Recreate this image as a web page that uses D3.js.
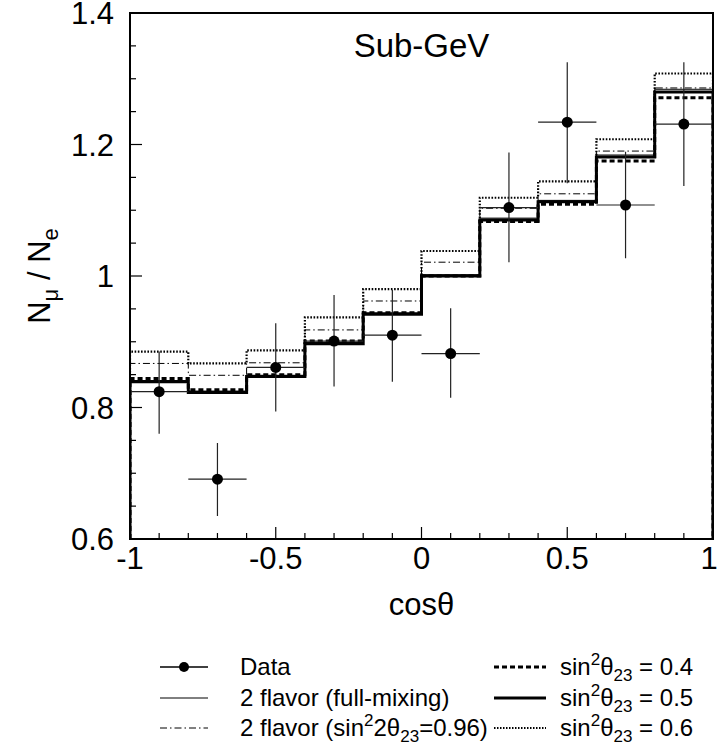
<!DOCTYPE html>
<html>
<head>
<meta charset="utf-8">
<script src="https://cdn.jsdelivr.net/npm/d3@7"></script>
<style>
  body { margin: 0; background: #fff; }
  svg text { font-family: "Liberation Sans", Arial, sans-serif; fill: #000; }
</style>
</head>
<body>
<div id="chart"></div>
<script>
// bins in cos(theta)
var binEdges = [-1, -0.8, -0.6, -0.4, -0.2, 0, 0.2, 0.4, 0.6, 0.8, 1];
var binCenters = [-0.9, -0.7, -0.5, -0.3, -0.1, 0.1, 0.3, 0.5, 0.7, 0.9];

// data points with error bars
var dataVal = [0.824, 0.691, 0.861, 0.901, 0.910, 0.882, 1.104, 1.234, 1.108, 1.231];
var dataHi  = [0.885, 0.746, 0.928, 0.971, 0.979, 0.951, 1.188, 1.325, 1.189, 1.325];
var dataLo  = [0.760, 0.635, 0.794, 0.832, 0.839, 0.815, 1.021, 1.141, 1.027, 1.137];

// predictions
var fullMix = [0.841, 0.825, 0.849, 0.899, 0.944, 1.002, 1.088, 1.115, 1.184, 1.284];
var mix096  = [0.867, 0.849, 0.868, 0.918, 0.962, 1.021, 1.103, 1.125, 1.190, 1.286];
var sin04   = [0.844, 0.827, 0.850, 0.901, 0.944, 1.000, 1.083, 1.109, 1.175, 1.271];
var sin05   = [0.839, 0.823, 0.847, 0.897, 0.942, 1.000, 1.085, 1.113, 1.181, 1.280];
var sin06   = [0.885, 0.867, 0.887, 0.937, 0.980, 1.038, 1.119, 1.144, 1.208, 1.308];

var xTicks = [-1, -0.5, 0, 0.5, 1];
var yTicks = [0.6, 0.8, 1, 1.2, 1.4];

var width = 717, height = 750;
var margin = { left: 130, right: 713, top: 13, bottom: 539 };

var svg = d3.select("#chart").append("svg")
    .attr("width", width)
    .attr("height", height);

var x = d3.scaleLinear().domain([-1, 1]).range([margin.left, margin.right]);
var y = d3.scaleLinear().domain([0.6, 1.4]).range([margin.bottom, margin.top]);

svg.append("defs").append("clipPath").attr("id", "clip")
    .append("rect")
    .attr("x", margin.left).attr("y", margin.top)
    .attr("width", margin.right - margin.left).attr("height", margin.bottom - margin.top);

// histogram line builder
function histPoints(vals) {
    var pts = [[-1, 0.6]];
    vals.forEach(function (v, i) { pts.push([binEdges[i], v]); });
    pts.push([1, vals[vals.length - 1]]);
    pts.push([1, 0.6]);
    return pts;
}
var line = d3.line()
    .x(function (d) { return x(d[0]); })
    .y(function (d) { return y(d[1]); })
    .curve(d3.curveStepAfter);

var styles = [
    { vals: sin06, w: 2.2, dash: "1.6,1.6" },
    { vals: mix096, w: 1, dash: "7,3,1.5,3" },
    { vals: fullMix, w: 1, dash: null },
    { vals: sin04, w: 3, dash: "5,3" },
    { vals: sin05, w: 3, dash: null }
];

var hg = svg.append("g").attr("clip-path", "url(#clip)");
styles.forEach(function (s) {
    hg.append("path")
        .attr("d", line(histPoints(s.vals)))
        .attr("fill", "none")
        .attr("stroke", "#000")
        .attr("stroke-width", s.w)
        .attr("stroke-dasharray", s.dash);
});

// data points
var pg = svg.append("g");
binCenters.forEach(function (c, i) {
    pg.append("line")
        .attr("x1", x(c - 0.1)).attr("x2", x(c + 0.1))
        .attr("y1", y(dataVal[i])).attr("y2", y(dataVal[i]))
        .attr("stroke", "#222").attr("stroke-width", 1.2);
    pg.append("line")
        .attr("x1", x(c)).attr("x2", x(c))
        .attr("y1", y(dataLo[i])).attr("y2", y(dataHi[i]))
        .attr("stroke", "#222").attr("stroke-width", 1.2);
    pg.append("circle")
        .attr("cx", x(c)).attr("cy", y(dataVal[i]))
        .attr("r", 5.5).attr("fill", "#000");
});

// frame
svg.append("rect")
    .attr("x", margin.left).attr("y", margin.top)
    .attr("width", margin.right - margin.left).attr("height", margin.bottom - margin.top)
    .attr("fill", "none").attr("stroke", "#000").attr("stroke-width", 2);

// ticks
var xMinor = d3.range(-1, 1.0001, 0.1);
xMinor.forEach(function (t) {
    var major = xTicks.some(function (m) { return Math.abs(m - t) < 1e-6; });
    svg.append("line")
        .attr("x1", x(t)).attr("x2", x(t))
        .attr("y1", margin.bottom).attr("y2", margin.bottom - (major ? 12 : 6))
        .attr("stroke", "#000").attr("stroke-width", 1.2);
});
var yMinor = d3.range(0.6, 1.4001, 0.05);
yMinor.forEach(function (t) {
    var major = yTicks.some(function (m) { return Math.abs(m - t) < 1e-6; });
    svg.append("line")
        .attr("x1", margin.left).attr("x2", margin.left + (major ? 12 : 6))
        .attr("y1", y(t)).attr("y2", y(t))
        .attr("stroke", "#000").attr("stroke-width", 1.2);
});

// tick labels
svg.selectAll(".xl").data(xTicks).enter().append("text")
    .attr("x", function (d) { return x(d) - (d === 1 ? 4 : 0); })
    .attr("y", margin.bottom + 30)
    .attr("text-anchor", "middle")
    .attr("font-size", 31)
    .text(function (d) { return d; });
svg.selectAll(".yl").data(yTicks).enter().append("text")
    .attr("x", margin.left - 16)
    .attr("y", function (d) { return y(d) + 11; })
    .attr("text-anchor", "end")
    .attr("font-size", 31)
    .text(function (d) { return d; });

// axis titles
svg.append("text")
    .attr("x", x(0)).attr("y", 615)
    .attr("text-anchor", "middle")
    .attr("font-size", 31)
    .text("cosθ");

var yt = svg.append("text")
    .attr("transform", "translate(50," + y(1) + ") rotate(-90)")
    .attr("text-anchor", "middle")
    .attr("font-size", 31);
yt.append("tspan").text("N");
yt.append("tspan").attr("font-size", 22).attr("dy", 8).text("μ");
yt.append("tspan").attr("dy", -8).text(" / N");
yt.append("tspan").attr("font-size", 22).attr("dy", 8).text("e");

svg.append("text")
    .attr("x", x(0)).attr("y", 57)
    .attr("text-anchor", "middle")
    .attr("font-size", 33)
    .text("Sub-GeV");

// legend
var rowY = [667, 698, 728];
var lg = svg.append("g").attr("font-size", 24);

function sinLabel(g, xx, yy, val) {
    var t = g.append("text").attr("x", xx).attr("y", yy + 8).attr("font-size", 24);
    t.append("tspan").text("sin");
    t.append("tspan").attr("font-size", 17).attr("dy", -10).text("2");
    t.append("tspan").attr("dy", 10).text("θ");
    t.append("tspan").attr("font-size", 17).attr("dy", 6).text("23");
    t.append("tspan").attr("dy", -6).text(" = " + val);
}

// left column
lg.append("line").attr("x1", 160).attr("x2", 208).attr("y1", rowY[0]).attr("y2", rowY[0])
    .attr("stroke", "#000").attr("stroke-width", 1.5);
lg.append("circle").attr("cx", 184).attr("cy", rowY[0]).attr("r", 5).attr("fill", "#000");
lg.append("text").attr("x", 240).attr("y", rowY[0] + 8).text("Data");

lg.append("line").attr("x1", 160).attr("x2", 208).attr("y1", rowY[1]).attr("y2", rowY[1])
    .attr("stroke", "#000").attr("stroke-width", 1);
lg.append("text").attr("x", 240).attr("y", rowY[1] + 8).text("2 flavor (full-mixing)");

lg.append("line").attr("x1", 160).attr("x2", 208).attr("y1", rowY[2]).attr("y2", rowY[2])
    .attr("stroke", "#000").attr("stroke-width", 1).attr("stroke-dasharray", "7,3,1.5,3");
var t3 = lg.append("text").attr("x", 240).attr("y", rowY[2] + 8);
t3.append("tspan").text("2 flavor (sin");
t3.append("tspan").attr("font-size", 17).attr("dy", -10).text("2");
t3.append("tspan").attr("dy", 10).text("2θ");
t3.append("tspan").attr("font-size", 17).attr("dy", 6).text("23");
t3.append("tspan").attr("dy", -6).text("=0.96)");

// right column
var rightStyles = [
    { w: 3, dash: "5,3", val: "0.4" },
    { w: 3, dash: null, val: "0.5" },
    { w: 2, dash: "1.5,1.5", val: "0.6" }
];
rightStyles.forEach(function (s, i) {
    lg.append("line").attr("x1", 494).attr("x2", 546).attr("y1", rowY[i]).attr("y2", rowY[i])
        .attr("stroke", "#000").attr("stroke-width", s.w).attr("stroke-dasharray", s.dash);
    sinLabel(lg, 560, rowY[i], s.val);
});
</script>
</body>
</html>
